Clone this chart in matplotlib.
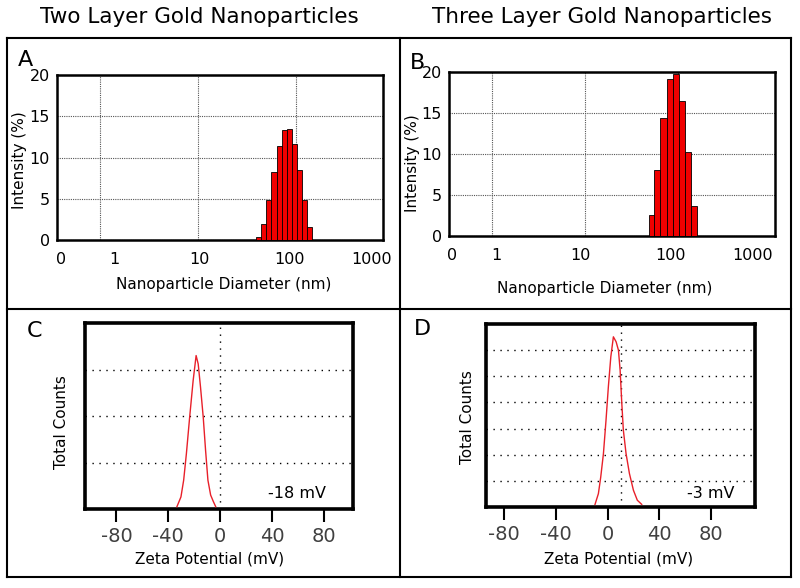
import numpy as np
import matplotlib
matplotlib.use('Agg')
from matplotlib import pyplot as plt
from matplotlib.ticker import FixedLocator, NullFormatter
from matplotlib.lines import Line2D

plt.rcParams['font.family'] = 'DejaVu Sans'
plt.rcParams['axes.unicode_minus'] = False

# size distribution, two layer (A)
a_edges = [39, 44, 50, 56, 64, 72, 81, 91, 102, 115, 130, 147]
a_heights = [0.4, 1.9, 4.9, 8.2, 11.4, 13.3, 13.5, 11.6, 8.5, 4.9, 1.6]

# size distribution, three layer (B)
b_edges = [48, 55, 64, 75, 87, 101, 117, 136, 158]
b_heights = [2.6, 8.0, 14.4, 19.1, 19.8, 16.5, 10.2, 3.7]

size_labels = ['0', '1', '10', '100', '1000']

# zeta potential, two layer (C)
c_mv = [-33.3, -30.2, -28.1, -26.0, -23.5, -20.8, -18.5, -16.9, -15.1,
        -13.0, -11.2, -9.4, -7.3, -5.2, -3.4]
c_counts = [0.05, 0.26, 0.62, 1.19, 1.97, 2.76, 3.30, 3.12, 2.62,
            1.97, 1.26, 0.62, 0.30, 0.16, 0.05]

# zeta potential, three layer (D)
d_mv = [-9.7, -7.1, -5.3, -3.2, -1.2, 0.6, 2.5, 4.5, 6.6, 8.4, 9.7, 11.0,
        12.2, 14.3, 16.9, 20.0, 23.0, 26.4]
d_counts = [0.10, 0.51, 1.14, 2.04, 3.32, 4.59, 5.74, 6.51, 6.32, 6.00,
            5.24, 3.97, 2.94, 2.04, 1.28, 0.64, 0.26, 0.10]

zeta_ticks = [-80, -40, 0, 40, 80]

W, H = 800, 588
fig = plt.figure(figsize=(8, 5.88), dpi=100)


def rect(x0, y0, x1, y1):
    # pixel box (top-left origin) -> figure fraction
    return [x0 / W, (H - y1) / H, (x1 - x0) / W, (y1 - y0) / H]


def ftext(x, y, s, **kw):
    fig.text(x / W, 1 - y / H, s, ha='center', va='center', **kw)


# outer frame and dividers
for x in (7, 400, 791):
    fig.add_artist(Line2D([x / W, x / W], [1 - 38 / H, 1 - 577 / H], color='black', lw=1.5))
for y in (38, 309, 577):
    fig.add_artist(Line2D([7 / W, 791 / W], [1 - y / H, 1 - y / H], color='black', lw=1.5))

ftext(199, 17, 'Two Layer Gold Nanoparticles', fontsize=15.5)
ftext(602, 17, 'Three Layer Gold Nanoparticles', fontsize=15.5)


def size_panel(box, edges, heights, xlim, label_pos):
    ax = fig.add_axes(box)
    ax.bar(edges[:-1], heights, width=np.diff(edges), align='edge',
           color='#f00000', edgecolor='black', linewidth=0.6, zorder=3)
    ax.set_xscale('log')
    ax.set_xlim(*xlim)
    ax.set_ylim(0, 20)
    ax.xaxis.set_major_locator(FixedLocator(label_pos))
    ax.set_xticklabels(size_labels)
    ax.xaxis.set_minor_locator(FixedLocator([1, 10, 100]))
    ax.xaxis.set_minor_formatter(NullFormatter())
    ax.set_yticks([0, 5, 10, 15, 20])
    ax.tick_params(which='both', length=0, labelsize=11.5)
    ax.tick_params(axis='x', pad=9)
    ax.tick_params(axis='y', pad=5)
    ax.grid(True, which='minor', axis='x', color='#555555', ls=(0, (1, 1)), lw=0.8)
    ax.grid(True, which='major', axis='y', color='#555555', ls=(0, (1, 1)), lw=0.8)
    for s in ax.spines.values():
        s.set_linewidth(1.8)
    return ax


size_panel(rect(57, 75, 383, 240), a_edges, a_heights, (0.367, 777),
           [0.40, 1.4, 10.3, 85.5, 600])
size_panel(rect(449, 72, 775, 236), b_edges, b_heights, (0.343, 1100),
           [0.369, 1.12, 9.0, 83, 635])

ftext(25, 60, 'A', fontsize=16)
ftext(417, 63, 'B', fontsize=16)
ftext(20, 160, 'Intensity (%)', fontsize=11, rotation=90)
ftext(412, 163, 'Intensity (%)', fontsize=11, rotation=90)
ftext(224, 284, 'Nanoparticle Diameter (nm)', fontsize=11)
ftext(605, 288, 'Nanoparticle Diameter (nm)', fontsize=11)


def zeta_panel(box, mv, counts, xlim, ymax, vline, note, note_xy):
    ax = fig.add_axes(box)
    ax.plot(mv, counts, color='#e8202a', lw=1.0, zorder=3)
    ax.set_xlim(*xlim)
    ax.set_ylim(0, ymax)
    ax.set_xticks(zeta_ticks)
    ax.set_yticks(range(1, ymax))
    ax.set_yticklabels([])
    ax.tick_params(axis='y', length=0)
    ax.tick_params(axis='x', direction='out', length=9, width=1.5,
                   labelsize=14, labelcolor='#404040', pad=4)
    ax.grid(True, axis='y', color='black', ls=(0, (1, 4)), lw=1.0)
    ax.axvline(vline, color='black', ls=(0, (1, 4)), lw=1.0)
    for s in ax.spines.values():
        s.set_linewidth(2.6)
    ax.text(*note_xy, note, transform=ax.transAxes, fontsize=11.5,
            ha='center', va='center')
    return ax


zeta_panel(rect(85, 323, 353, 509), c_mv, c_counts, (-104.2, 102.5), 4, 0,
           '-18 mV', ((297 - 85) / 268, (509 - 493) / 186))
zeta_panel(rect(486, 324, 755, 507), d_mv, d_counts, (-94, 114), 7, 10,
           '-3 mV', ((711 - 486) / 269, (507 - 493) / 183))

ftext(34, 331, 'C', fontsize=16)
ftext(422, 329, 'D', fontsize=16)
ftext(62, 422, 'Total Counts', fontsize=11, rotation=90)
ftext(468, 417, 'Total Counts', fontsize=11, rotation=90)
ftext(210, 559, 'Zeta Potential (mV)', fontsize=11)
ftext(619, 559, 'Zeta Potential (mV)', fontsize=11)

fig.savefig('out.png', dpi=100)
